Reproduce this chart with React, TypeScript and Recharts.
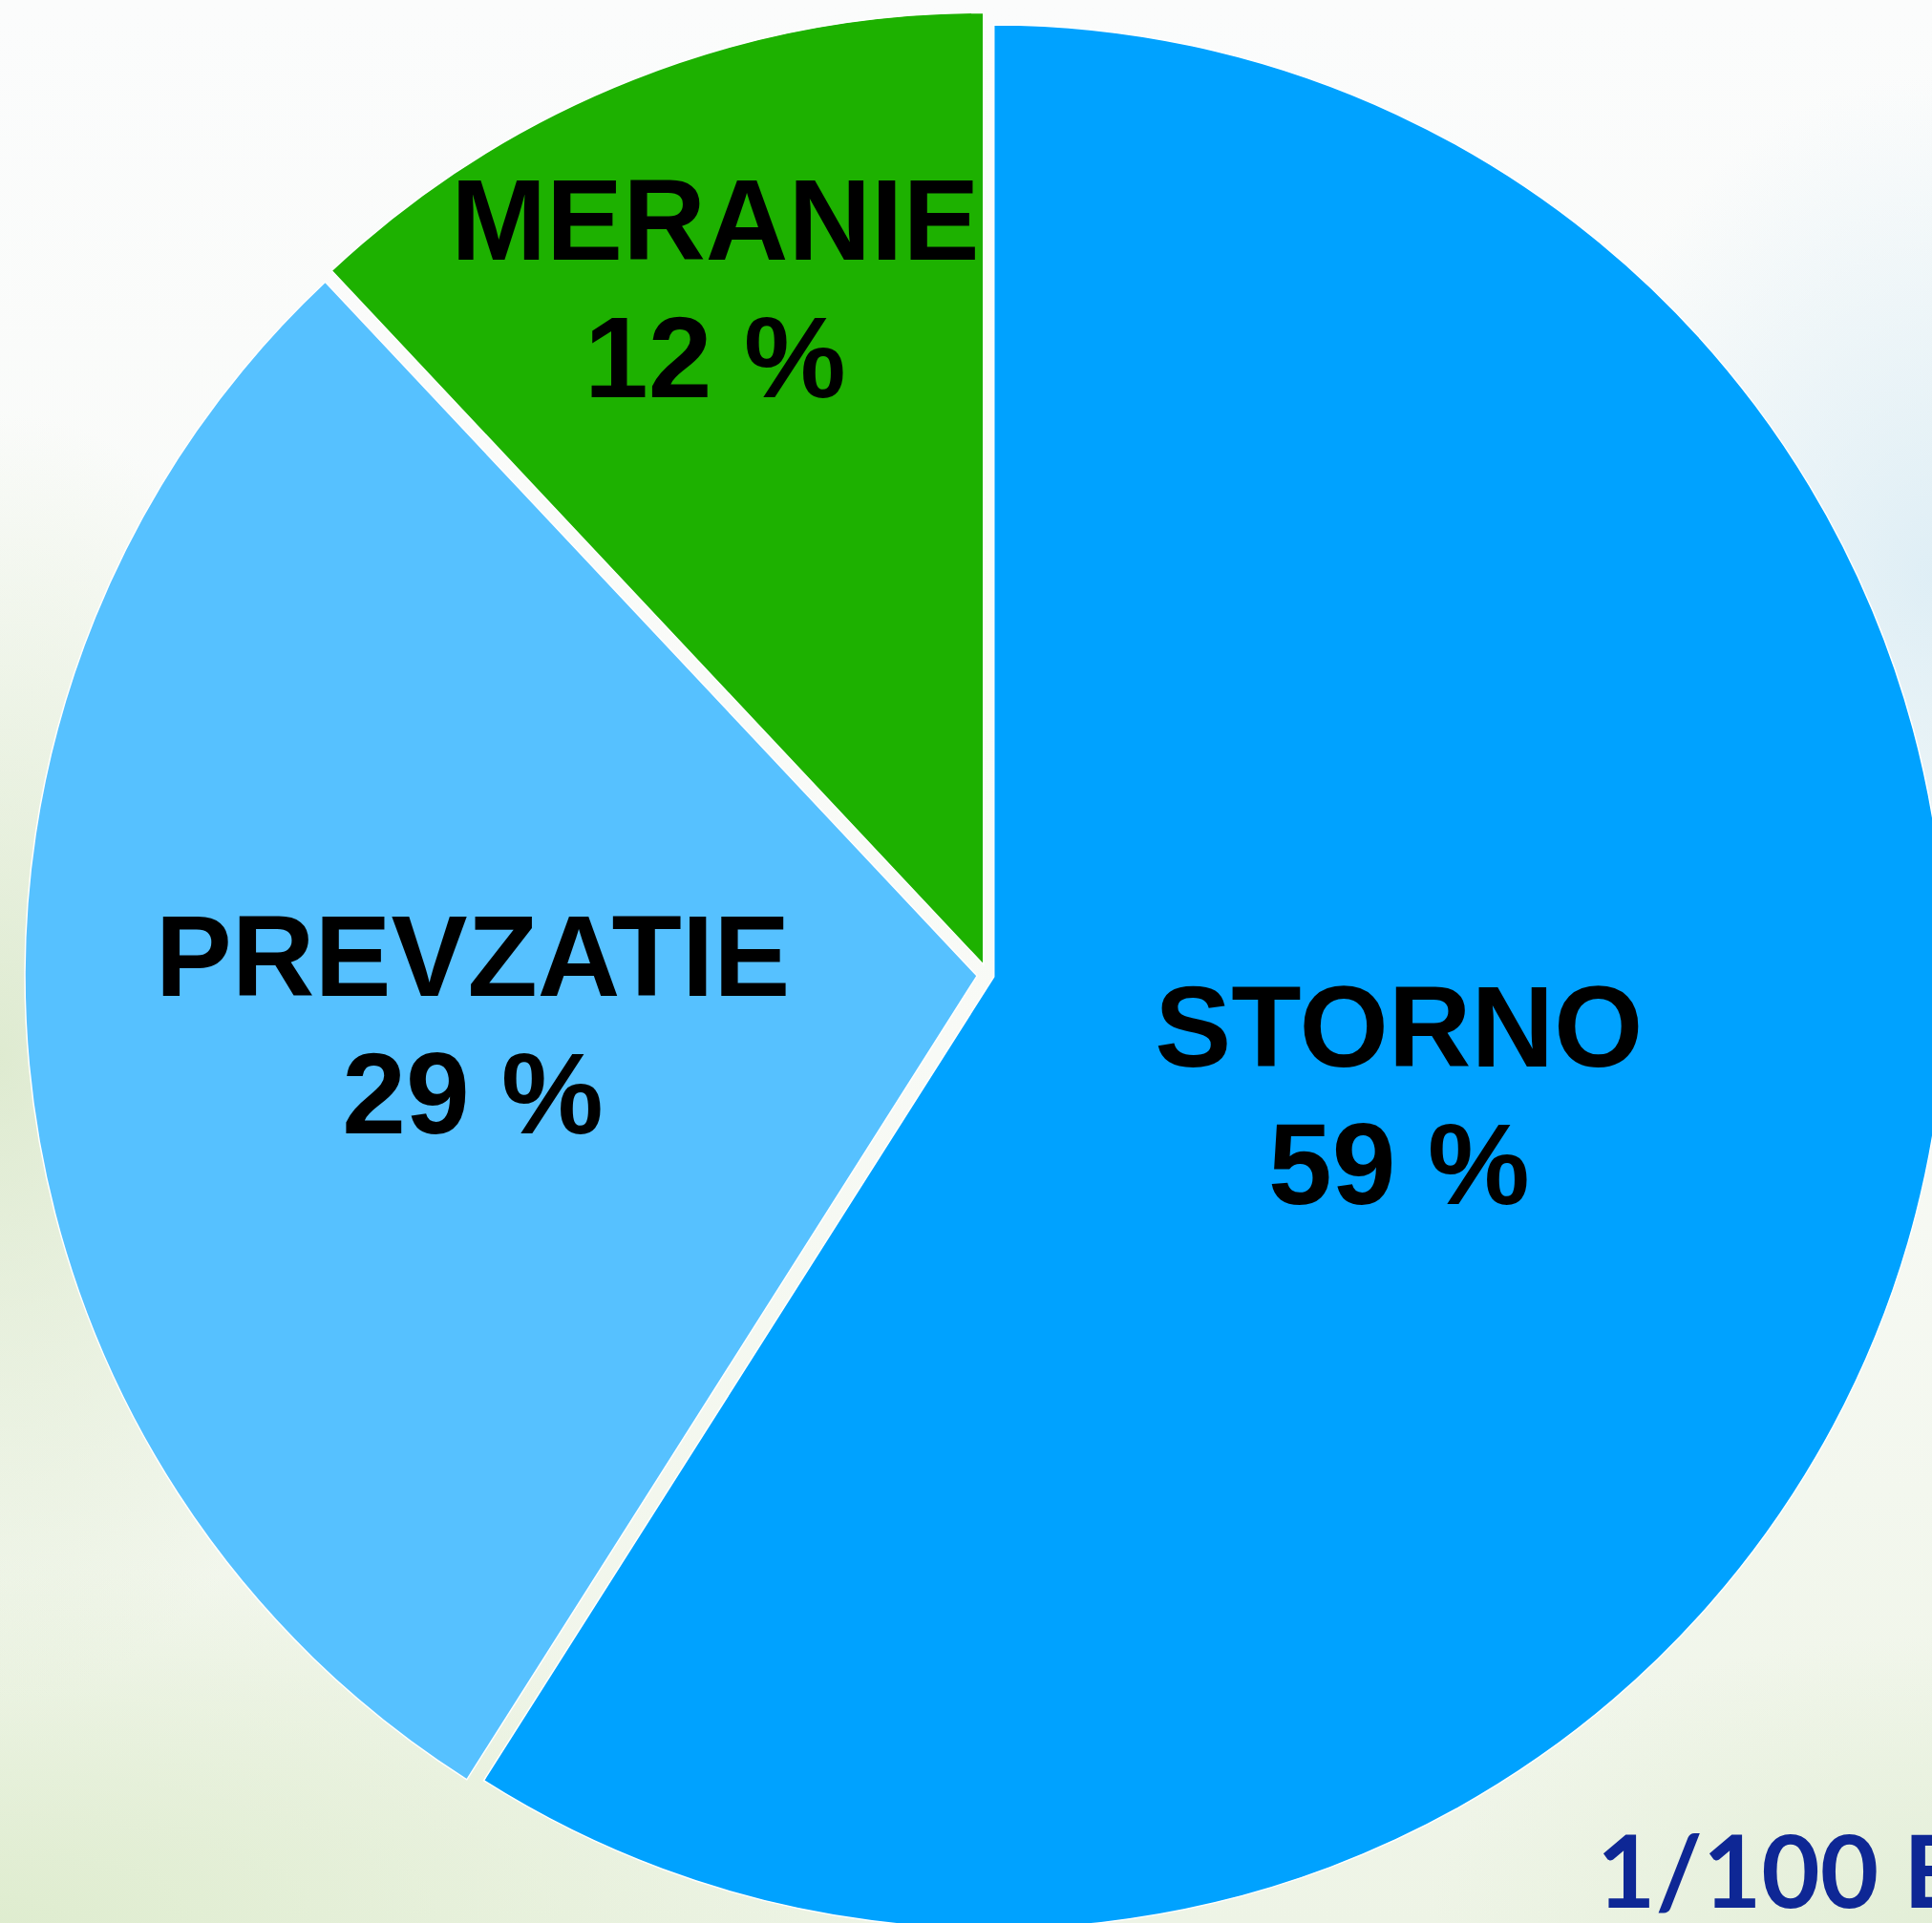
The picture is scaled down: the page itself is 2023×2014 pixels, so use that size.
import React from 'react';
import { PieChart, Pie, Cell } from 'recharts';

// ---- data ----
const categories: string[] = ['STORNO', 'PREVZATIE', 'MERANIE'];
const shares: number[] = [59, 29, 12];
const sliceColors: string[] = ['#00A2FF', '#56C1FF', '#1DB100'];
const cornerText = '1/100 E';

// ---- layout / style ----
const W = 2023;
const H = 2014;
const CX = 1034;
const CY = 1021;
const R = 997;
const explode = [7, 11, 11.5];
const labelRadiusRatio = [0.45, 0.543, 0.777];
const RAD = Math.PI / 180;

const data = categories.map((name, i) => ({ name, value: shares[i] }));
const total = shares.reduce((a, b) => a + b, 0);

// mid-angle (math convention, degrees) of each slice, from data
const midAngles: number[] = (() => {
  let cum = 0;
  return shares.map((v) => {
    const m = 90 - (360 * (cum + v / 2)) / total;
    cum += v;
    return m;
  });
})();

const renderLabel = (props: any) => {
  const { cx, cy, midAngle, outerRadius, index, payload } = props;
  const r = outerRadius * labelRadiusRatio[index];
  const x = cx + r * Math.cos(-midAngle * RAD);
  const y = cy + r * Math.sin(-midAngle * RAD);
  const name = payload?.name ?? categories[index];
  const value = payload?.value ?? shares[index];
  return (
    <text
      key={`lbl-${index}`}
      textAnchor="middle"
      fill="#000"
      fontFamily="'Liberation Sans', Arial, Helvetica, sans-serif"
      fontWeight="bold"
      fontSize={120}
    >
      <tspan x={x} y={y - 29}>{name}</tspan>
      <tspan x={x} y={y + 115}>{`${value} %`}</tspan>
    </text>
  );
};

const background = [
  'radial-gradient(ellipse 520px 700px at 100% 30%, rgba(218,236,245,0.85), rgba(218,236,245,0) 75%)',
  'radial-gradient(ellipse 520px 900px at 0% 55%, rgba(218,232,202,0.85), rgba(218,232,202,0) 75%)',
  'radial-gradient(ellipse 1300px 500px at 0% 100%, rgba(222,236,206,0.95), rgba(222,236,206,0) 75%)',
  'radial-gradient(ellipse 700px 400px at 100% 100%, rgba(226,238,214,0.9), rgba(226,238,214,0) 75%)',
  'linear-gradient(to bottom, #fbfcfc 0%, #f8faf6 55%, #eef4e6 100%)',
].join(', ');

export default function App() {
  return (
    <div
      style={{
        position: 'absolute',
        left: 0,
        top: 0,
        width: W,
        height: H,
        overflow: 'hidden',
        background,
      }}
    >
      <PieChart width={W} height={H} margin={{ top: 0, right: 0, bottom: 0, left: 0 }}>
        {categories.map((cat, k) => (
          <Pie
            key={cat}
            data={data}
            dataKey="value"
            nameKey="name"
            cx={CX + explode[k] * Math.cos(midAngles[k] * RAD)}
            cy={CY - explode[k] * Math.sin(midAngles[k] * RAD)}
            outerRadius={R}
            innerRadius={0}
            startAngle={90}
            endAngle={-270}
            paddingAngle={0}
            isAnimationActive={false}
            labelLine={false}
            label={false}
          >
            {data.map((d, i) => (
              <Cell
                key={d.name}
                fill={i === k ? sliceColors[i] : 'none'}
                stroke={i === k ? '#ffffff' : 'none'}
                strokeWidth={i === k ? 1.5 : 0}
              />
            ))}
          </Pie>
        ))}
        <Pie
          data={data}
          dataKey="value"
          nameKey="name"
          cx={CX}
          cy={CY}
          outerRadius={R}
          innerRadius={0}
          startAngle={90}
          endAngle={-270}
          isAnimationActive={false}
          labelLine={false}
          label={renderLabel}
        >
          {data.map((d) => (
            <Cell key={d.name} fill="none" stroke="none" />
          ))}
        </Pie>
      </PieChart>
      <svg
        width={W}
        height={H}
        style={{ position: 'absolute', left: 0, top: 0, pointerEvents: 'none' }}
      >
        <text
          x={1672}
          y={1998}
          fill="#0E2795"
          fontFamily="Lato, 'Open Sans', sans-serif"
          fontWeight="bold"
          fontSize={106}
        >
          {cornerText}
        </text>
      </svg>
    </div>
  );
}
